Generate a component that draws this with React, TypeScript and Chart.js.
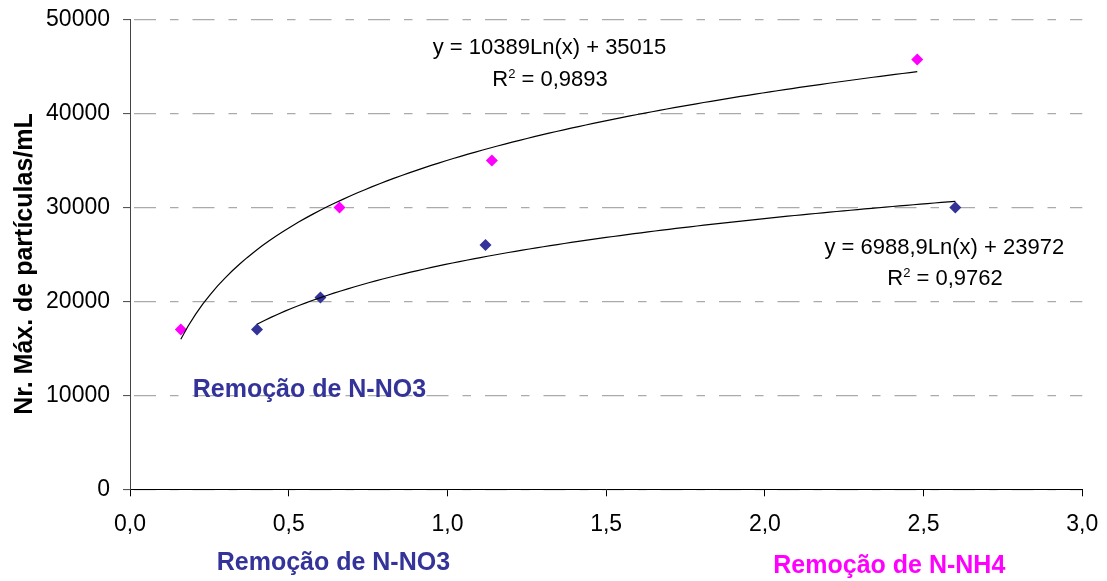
import React, { useEffect, useRef } from 'react';
import { Chart, registerables } from 'chart.js';

Chart.register(...registerables);

const FONT = '"Liberation Sans", Arial, Helvetica, sans-serif';

// Data
const nh4X = [0.16, 0.66, 1.14, 2.48];
const nh4Y = [17000, 30000, 35000, 45750];
const no3X = [0.4, 0.6, 1.12, 2.6];
const no3Y = [17000, 20400, 26000, 30000];

// Logarithmic trendline coefficients printed on the chart: y = a*Ln(x) + b
const nh4Trend = { a: 10389, b: 35015 };
const no3Trend = { a: 6988.9, b: 23972 };

const xTickLabels = ['0,0', '0,5', '1,0', '1,5', '2,0', '2,5', '3,0'];
const yTitle = 'Nr. Máx. de partículas/mL';
const eq1 = 'y = 10389Ln(x) + 35015';
const r2a = ' = 0,9893';
const eq2 = 'y = 6988,9Ln(x) + 23972';
const r2b = ' = 0,9762';
const labelNO3 = 'Remoção de N-NO3';
const labelNH4 = 'Remoção de N-NH4';

const BLUE = '#333399';
const MAGENTA = '#FF00FF';

function trendPoints(a: number, b: number, xs: number[]) {
  const x0 = Math.min(...xs);
  const x1 = Math.max(...xs);
  const n = 100;
  const pts: { x: number; y: number }[] = [];
  for (let i = 0; i <= n; i++) {
    const x = x0 + ((x1 - x0) * i) / n;
    pts.push({ x, y: a * Math.log(x) + b });
  }
  return pts;
}

const textPlugin = {
  id: 'texts',
  afterDraw(chart: any) {
    const ctx = chart.ctx as CanvasRenderingContext2D;
    ctx.save();
    // y axis title
    ctx.save();
    ctx.translate(25, 264);
    ctx.rotate(-Math.PI / 2);
    ctx.font = `bold 25px ${FONT}`;
    ctx.fillStyle = '#000';
    ctx.textAlign = 'center';
    ctx.textBaseline = 'middle';
    ctx.fillText(yTitle, 0, 0);
    ctx.restore();

    // equations
    ctx.fillStyle = '#000';
    ctx.textBaseline = 'alphabetic';
    ctx.textAlign = 'center';
    ctx.font = `22px ${FONT}`;
    ctx.fillText(eq1, 549.5, 53.5);
    ctx.fillText(eq2, 944.3, 254);

    const drawR2 = (rest: string, cx: number, by: number) => {
      ctx.textAlign = 'left';
      ctx.font = `22px ${FONT}`;
      const wR = ctx.measureText('R').width;
      const wRest = ctx.measureText(rest).width;
      ctx.font = `13px ${FONT}`;
      const w2 = ctx.measureText('2').width;
      const total = wR + w2 + wRest;
      let x = cx - total / 2;
      ctx.font = `22px ${FONT}`;
      ctx.fillText('R', x, by);
      x += wR;
      ctx.font = `13px ${FONT}`;
      ctx.fillText('2', x, by - 8.5);
      x += w2;
      ctx.font = `22px ${FONT}`;
      ctx.fillText(rest, x, by);
    };
    drawR2(r2a, 550, 86);
    drawR2(r2b, 945, 285);

    // series labels
    ctx.textAlign = 'left';
    ctx.font = `bold 25px ${FONT}`;
    ctx.fillStyle = BLUE;
    ctx.fillText(labelNO3, 192.7, 397);
    ctx.fillText(labelNO3, 216.7, 570);
    ctx.fillStyle = MAGENTA;
    ctx.fillText(labelNH4, 773.3, 573);
    ctx.restore();
  },
};

export default function App() {
  const ref = useRef<HTMLCanvasElement>(null);

  useEffect(() => {
    document.body.style.margin = '0';
    const canvas = ref.current!;
    const chart = new Chart(canvas, {
      type: 'scatter',
      data: {
        datasets: [
          {
            label: labelNO3,
            data: no3X.map((x, i) => ({ x, y: no3Y[i] })),
            pointStyle: 'rectRot',
            pointRadius: 6,
            pointHoverRadius: 6,
            backgroundColor: BLUE,
            borderColor: BLUE,
            borderWidth: 0,
            order: 1,
          },
          {
            label: labelNH4,
            data: nh4X.map((x, i) => ({ x, y: nh4Y[i] })),
            pointStyle: 'rectRot',
            pointRadius: 6,
            pointHoverRadius: 6,
            backgroundColor: MAGENTA,
            borderColor: MAGENTA,
            borderWidth: 0,
            order: 1,
          },
          {
            label: 'trend NH4',
            data: trendPoints(nh4Trend.a, nh4Trend.b, nh4X),
            showLine: true,
            pointRadius: 0,
            borderColor: '#000',
            borderWidth: 1.2,
            fill: false,
            order: 0,
          },
          {
            label: 'trend NO3',
            data: trendPoints(no3Trend.a, no3Trend.b, no3X),
            showLine: true,
            pointRadius: 0,
            borderColor: '#000',
            borderWidth: 1.2,
            fill: false,
            order: 0,
          },
        ] as any,
      },
      options: {
        responsive: false,
        animation: false,
        devicePixelRatio: 1,
        layout: { padding: { top: 19.5, right: 24.7, bottom: 0, left: 0 } },
        plugins: {
          legend: { display: false },
          tooltip: { enabled: false },
        },
        scales: {
          x: {
            type: 'linear',
            min: 0,
            max: 3,
            ticks: {
              stepSize: 0.5,
              callback: (_v: any, i: number) => xTickLabels[i],
              font: { family: FONT, size: 23 },
              color: '#000',
              padding: 15,
              maxRotation: 0,
              autoSkip: false,
            },
            grid: {
              drawOnChartArea: false,
              drawTicks: true,
              tickLength: 7,
              tickColor: '#000',
              tickWidth: 1,
            },
            border: { color: '#000', width: 1 },
            afterFit: (s: any) => {
              s.height = 91.7;
              s.paddingLeft = 0;
              s.paddingRight = 0;
            },
          },
          y: {
            type: 'linear',
            min: 0,
            max: 50000,
            ticks: {
              stepSize: 10000,
              font: { family: FONT, size: 23 },
              color: '#000',
              padding: 13,
              callback: (v: any) => String(v),
            },
            grid: {
              color: '#aaaaaa',
              lineWidth: 1.2,
              drawTicks: true,
              tickLength: 7,
              tickColor: '#444',
              tickWidth: 1,
            },
            border: { color: '#444', width: 1, dash: [22, 14, 8.5, 14], dashOffset: 55.5 },
            afterFit: (s: any) => {
              s.width = 130;
              s.paddingTop = 0;
              s.paddingBottom = 0;
            },
          },
        },
      } as any,
      plugins: [textPlugin],
    });
    return () => chart.destroy();
  }, []);

  return (
    <div style={{ position: 'absolute', left: 0, top: 0, width: 1107, height: 581, background: '#fff' }}>
      <canvas ref={ref} width={1107} height={581} />
    </div>
  );
}
